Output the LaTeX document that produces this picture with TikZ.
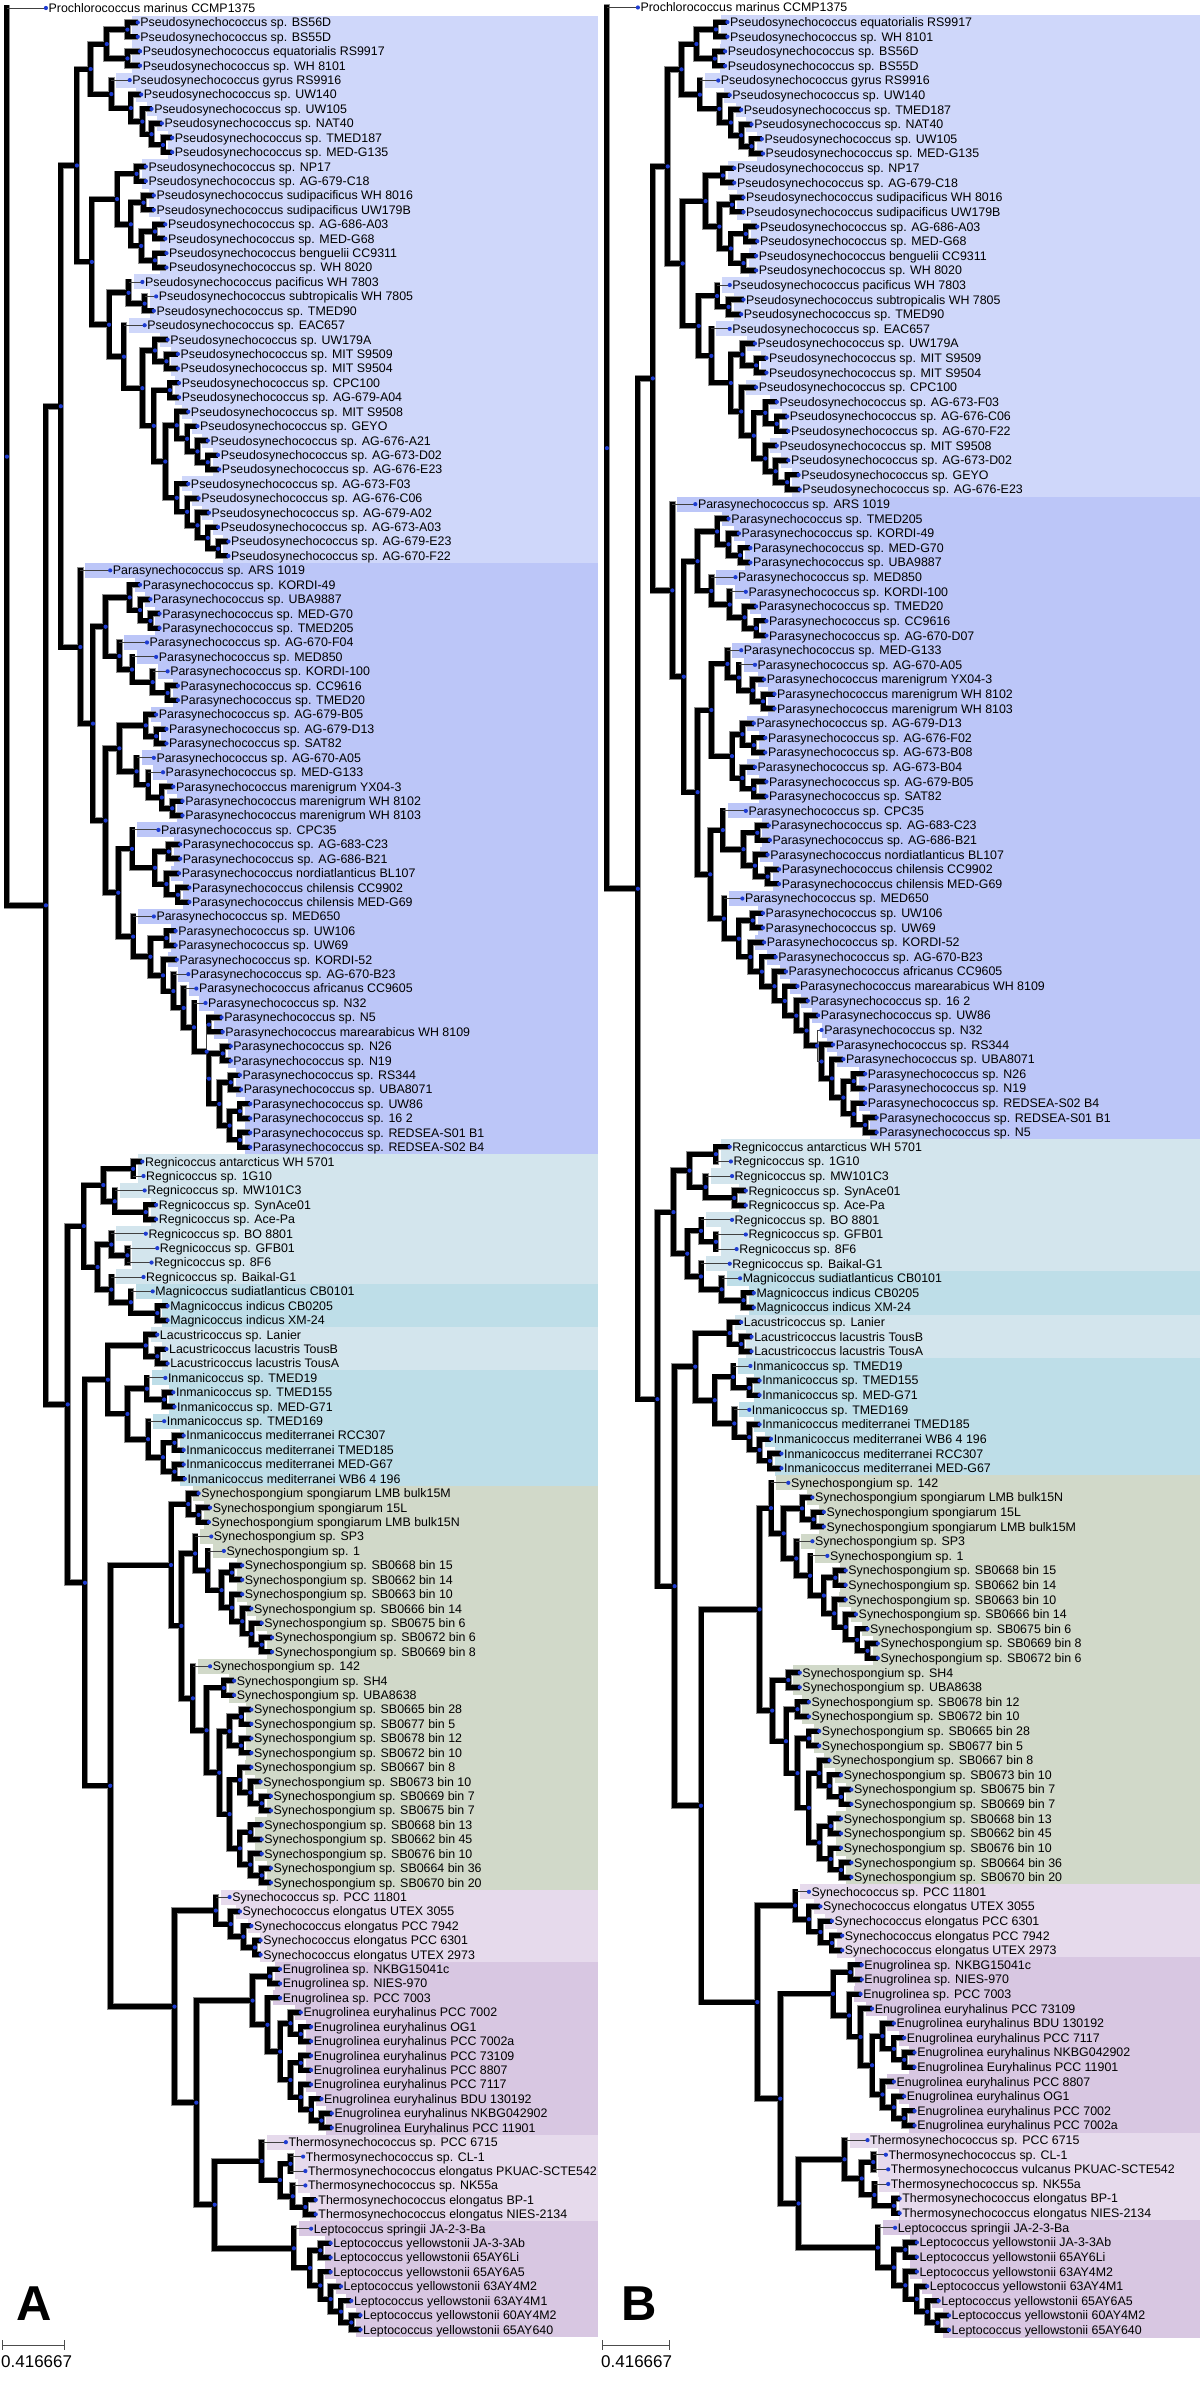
\documentclass[tikz,border=0pt]{standalone}
\usepackage{fontspec}
\setmainfont{Liberation Sans}
\usetikzlibrary{calc}
\definecolor{cPse}{HTML}{CFD7FA}
\definecolor{cPar}{HTML}{BCC6F8}
\definecolor{cReg}{HTML}{D3E5ED}
\definecolor{cMag}{HTML}{BEDEE8}
\definecolor{cSpo}{HTML}{D1D9C9}
\definecolor{cSyc}{HTML}{E6DAEC}
\definecolor{cEnu}{HTML}{D8C7E2}
\definecolor{dotblue}{HTML}{1E3CD2}
\tikzset{
  thk/.style={line width=5pt, draw=black},
  thkbg/.style={line width=6.6pt, draw=black!45},
  thn/.style={line width=0.9pt, draw=black!75},
  lab/.style={anchor=base west, inner sep=1pt, font=\fontsize{12.4}{13}\selectfont},
  dotst/.style={fill=dotblue},
  panellet/.style={anchor=base west, inner sep=0pt, font=\fontsize{49}{50}\selectfont\bfseries},
  scaletxt/.style={anchor=north west, inner sep=0pt, font=\fontsize{17}{18}\selectfont},
  scalebar/.style={line width=1pt, draw=black!70},
}
\newcommand\ys{8}
\newcommand\yd{14.42}
\newcommand\rx{598}
\newcommand\xo{0}
\newcommand\xs{1.1481}
\newcommand\bcol{white}
\newcommand\bglist{}
\newcommand\underlist{}
\newcommand\mainlist{}
\newcommand\lablist{}
\newcommand\toplist{}
\newcommand\addto[2]{\xdef#1{\unexpanded\expandafter{#1}#2}}
\newcommand\Lf[5]{%
  \pgfmathsetmacro\tmpy{\ys+\yd*#2}%
  \pgfmathsetmacro\tmpx{\xo+(#3-\xo)*\xs}%
  \expandafter\xdef\csname ny@#1\endcsname{\tmpy}%
  \expandafter\xdef\csname nx@#1\endcsname{\tmpx}%
  \expandafter\xdef\csname nf@#1\endcsname{#4}%
  \expandafter\xdef\csname nc@#1\endcsname{\bcol}%
  \expandafter\xdef\csname nl@#1\endcsname{1}%
  \coordinate (#1) at (\tmpx,-\tmpy);%
  \addto\lablist{\noexpand\node[lab] (#1t) at (\tmpx+1.5,-\tmpy-4.4) {\unexpanded{#5}};}%
  \addto\toplist{\noexpand\fill[dotst] (#1) circle (2.1pt);}%
}
\newcommand\Br[2]{%
  \ifnum\csname nf@#2\endcsname=2\relax
    \addto\mainlist{\noexpand\draw[thn] (#1) |- (#2);}%
  \else\ifnum\csname nf@#2\endcsname=1\relax
    \addto\underlist{\noexpand\draw[thkbg,line cap=rect] (#1) -- (#1 |- #2);}%
    \addto\mainlist{\noexpand\draw[thk,line cap=rect] (#1) -- (#1 |- #2);\noexpand\draw[thn] (#1 |- #2) -- (#2);}%
  \else
    \addto\underlist{\noexpand\draw[thkbg] (#1) |- (#2);}%
    \addto\mainlist{\noexpand\draw[thk] (#1) |- (#2);}%
  \fi\fi
  \ifnum\csname nl@#2\endcsname=1\relax
    \pgfmathsetmacro\bxa{\csname nx@#1\endcsname+5}%
    \pgfmathsetmacro\bya{-\csname ny@#2\endcsname+\yd/2+0.3}%
    \pgfmathsetmacro\byb{-\csname ny@#2\endcsname-\yd/2-0.3}%
    \addto\bglist{\noexpand\fill[\csname nc@#2\endcsname] (\bxa,\bya) rectangle (\rx,\byb);}%
  \fi
}
\newcommand\Cl[5]{%
  \pgfmathsetmacro\tmpy{(\csname ny@#3\endcsname+\csname ny@#4\endcsname)/2}%
  \pgfmathsetmacro\tmpx{\xo+(#2-\xo)*\xs}%
  \expandafter\xdef\csname ny@#1\endcsname{\tmpy}%
  \expandafter\xdef\csname nx@#1\endcsname{\tmpx}%
  \expandafter\xdef\csname nf@#1\endcsname{#5}%
  \expandafter\xdef\csname nl@#1\endcsname{0}%
  \coordinate (#1) at (\tmpx,-\tmpy);%
  \Br{#1}{#3}\Br{#1}{#4}%
  \addto\toplist{\noexpand\fill[dotst] (#1) circle (2.1pt);}%
}
\begin{document}
\begin{tikzpicture}[x=1pt,y=1pt]
\useasboundingbox (0,0) rectangle (1200,-2400);
\fill[white] (0,0) rectangle (1200,-2400);
% ================= PANEL A =================
\renewcommand\bcol{white}
\Lf{A0}{0}{40}{1}{Prochlorococcus marinus CCMP1375}
\renewcommand\bcol{cPse}
\Lf{A1}{1}{120}{0}{Pseudosynechococcus sp. BS56D}
\Lf{A2}{2}{120}{0}{Pseudosynechococcus sp. BS55D}
\Lf{A3}{3}{122}{0}{Pseudosynechococcus equatorialis RS9917}
\Lf{A4}{4}{122}{0}{Pseudosynechococcus sp. WH 8101}
\Lf{A5}{5}{113}{1}{Pseudosynechococcus gyrus RS9916}
\Lf{A6}{6}{123}{0}{Pseudosynechococcus sp. UW140}
\Lf{A7}{7}{132}{0}{Pseudosynechococcus sp. UW105}
\Lf{A8}{8}{141}{0}{Pseudosynechococcus sp. NAT40}
\Lf{A9}{9}{150}{0}{Pseudosynechococcus sp. TMED187}
\Lf{A10}{10}{150}{0}{Pseudosynechococcus sp. MED-G135}
\Lf{A11}{11}{127}{0}{Pseudosynechococcus sp. NP17}
\Lf{A12}{12}{127}{0}{Pseudosynechococcus sp. AG-679-C18}
\Lf{A13}{13}{134}{0}{Pseudosynechococcus sudipacificus WH 8016}
\Lf{A14}{14}{134}{0}{Pseudosynechococcus sudipacificus UW179B}
\Lf{A15}{15}{144}{0}{Pseudosynechococcus sp. AG-686-A03}
\Lf{A16}{16}{144}{0}{Pseudosynechococcus sp. MED-G68}
\Lf{A17}{17}{145}{0}{Pseudosynechococcus benguelii CC9311}
\Lf{A18}{18}{145}{0}{Pseudosynechococcus sp. WH 8020}
\Lf{A19}{19}{124}{1}{Pseudosynechococcus pacificus WH 7803}
\Lf{A20}{20}{136}{1}{Pseudosynechococcus subtropicalis WH 7805}
\Lf{A21}{21}{134}{0}{Pseudosynechococcus sp. TMED90}
\Lf{A22}{22}{126}{1}{Pseudosynechococcus sp. EAC657}
\Lf{A23}{23}{146}{0}{Pseudosynechococcus sp. UW179A}
\Lf{A24}{24}{155}{0}{Pseudosynechococcus sp. MIT S9509}
\Lf{A25}{25}{155}{0}{Pseudosynechococcus sp. MIT S9504}
\Lf{A26}{26}{156}{0}{Pseudosynechococcus sp. CPC100}
\Lf{A27}{27}{156}{0}{Pseudosynechococcus sp. AG-679-A04}
\Lf{A28}{28}{164}{0}{Pseudosynechococcus sp. MIT S9508}
\Lf{A29}{29}{172}{0}{Pseudosynechococcus sp. GEYO}
\Lf{A30}{30}{181}{0}{Pseudosynechococcus sp. AG-676-A21}
\Lf{A31}{31}{190}{0}{Pseudosynechococcus sp. AG-673-D02}
\Lf{A32}{32}{191}{0}{Pseudosynechococcus sp. AG-676-E23}
\Lf{A33}{33}{164}{0}{Pseudosynechococcus sp. AG-673-F03}
\Lf{A34}{34}{173}{0}{Pseudosynechococcus sp. AG-676-C06}
\Lf{A35}{35}{182}{0}{Pseudosynechococcus sp. AG-679-A02}
\Lf{A36}{36}{190}{0}{Pseudosynechococcus sp. AG-673-A03}
\Lf{A37}{37}{199}{0}{Pseudosynechococcus sp. AG-679-E23}
\Lf{A38}{38}{199}{0}{Pseudosynechococcus sp. AG-670-F22}
\renewcommand\bcol{cPar}
\Lf{A39}{39}{96}{1}{Parasynechococcus sp. ARS 1019}
\Lf{A40}{40}{122}{0}{Parasynechococcus sp. KORDI-49}
\Lf{A41}{41}{131}{0}{Parasynechococcus sp. UBA9887}
\Lf{A42}{42}{139}{0}{Parasynechococcus sp. MED-G70}
\Lf{A43}{43}{139}{0}{Parasynechococcus sp. TMED205}
\Lf{A44}{44}{128}{1}{Parasynechococcus sp. AG-670-F04}
\Lf{A45}{45}{136}{1}{Parasynechococcus sp. MED850}
\Lf{A46}{46}{146}{1}{Parasynechococcus sp. KORDI-100}
\Lf{A47}{47}{155}{0}{Parasynechococcus sp. CC9616}
\Lf{A48}{48}{155}{0}{Parasynechococcus sp. TMED20}
\Lf{A49}{49}{136}{0}{Parasynechococcus sp. AG-679-B05}
\Lf{A50}{50}{145}{0}{Parasynechococcus sp. AG-679-D13}
\Lf{A51}{51}{145}{0}{Parasynechococcus sp. SAT82}
\Lf{A52}{52}{134}{1}{Parasynechococcus sp. AG-670-A05}
\Lf{A53}{53}{142}{1}{Parasynechococcus sp. MED-G133}
\Lf{A54}{54}{151}{0}{Parasynechococcus marenigrum YX04-3}
\Lf{A55}{55}{159}{0}{Parasynechococcus marenigrum WH 8102}
\Lf{A56}{56}{159}{0}{Parasynechococcus marenigrum WH 8103}
\Lf{A57}{57}{138}{1}{Parasynechococcus sp. CPC35}
\Lf{A58}{58}{157}{0}{Parasynechococcus sp. AG-683-C23}
\Lf{A59}{59}{157}{0}{Parasynechococcus sp. AG-686-B21}
\Lf{A60}{60}{156}{0}{Parasynechococcus nordiatlanticus BL107}
\Lf{A61}{61}{165}{0}{Parasynechococcus chilensis CC9902}
\Lf{A62}{62}{165}{0}{Parasynechococcus chilensis MED-G69}
\Lf{A63}{63}{134}{1}{Parasynechococcus sp. MED650}
\Lf{A64}{64}{153}{0}{Parasynechococcus sp. UW106}
\Lf{A65}{65}{153}{0}{Parasynechococcus sp. UW69}
\Lf{A66}{66}{154}{0}{Parasynechococcus sp. KORDI-52}
\Lf{A67}{67}{164}{1}{Parasynechococcus sp. AG-670-B23}
\Lf{A68}{68}{171}{1}{Parasynechococcus africanus CC9605}
\Lf{A69}{69}{179}{1}{Parasynechococcus sp. N32}
\Lf{A70}{70}{193}{0}{Parasynechococcus sp. N5}
\Lf{A71}{71}{194}{0}{Parasynechococcus marearabicus WH 8109}
\Lf{A72}{72}{201}{0}{Parasynechococcus sp. N26}
\Lf{A73}{73}{201}{0}{Parasynechococcus sp. N19}
\Lf{A74}{74}{209}{0}{Parasynechococcus sp. RS344}
\Lf{A75}{75}{210}{0}{Parasynechococcus sp. UBA8071}
\Lf{A76}{76}{218}{0}{Parasynechococcus sp. UW86}
\Lf{A77}{77}{218}{0}{Parasynechococcus sp. 16 2}
\Lf{A78}{78}{218}{0}{Parasynechococcus sp. REDSEA-S01 B1}
\Lf{A79}{79}{218}{0}{Parasynechococcus sp. REDSEA-S02 B4}
\renewcommand\bcol{cReg}
\Lf{A80}{80}{124}{0}{Regnicoccus antarcticus WH 5701}
\Lf{A81}{81}{125}{1}{Regnicoccus sp. 1G10}
\Lf{A82}{82}{126}{1}{Regnicoccus sp. MW101C3}
\Lf{A83}{83}{136}{0}{Regnicoccus sp. SynAce01}
\Lf{A84}{84}{136}{0}{Regnicoccus sp. Ace-Pa}
\Lf{A85}{85}{127}{1}{Regnicoccus sp. BO 8801}
\Lf{A86}{86}{137}{1}{Regnicoccus sp. GFB01}
\Lf{A87}{87}{132}{1}{Regnicoccus sp. 8F6}
\Lf{A88}{88}{125}{1}{Regnicoccus sp. Baikal-G1}
\renewcommand\bcol{cMag}
\Lf{A89}{89}{133}{1}{Magnicoccus sudiatlanticus CB0101}
\Lf{A90}{90}{146}{0}{Magnicoccus indicus CB0205}
\Lf{A91}{91}{146}{0}{Magnicoccus indicus XM-24}
\renewcommand\bcol{cReg}
\Lf{A92}{92}{137}{0}{Lacustricoccus sp. Lanier}
\Lf{A93}{93}{145}{0}{Lacustricoccus lacustris TousB}
\Lf{A94}{94}{146}{0}{Lacustricoccus lacustris TousA}
\renewcommand\bcol{cMag}
\Lf{A95}{95}{144}{1}{Inmanicoccus sp. TMED19}
\Lf{A96}{96}{151}{0}{Inmanicoccus sp. TMED155}
\Lf{A97}{97}{152}{0}{Inmanicoccus sp. MED-G71}
\Lf{A98}{98}{143}{1}{Inmanicoccus sp. TMED169}
\Lf{A99}{99}{160}{0}{Inmanicoccus mediterranei RCC307}
\Lf{A100}{100}{160}{0}{Inmanicoccus mediterranei TMED185}
\Lf{A101}{101}{160}{0}{Inmanicoccus mediterranei MED-G67}
\Lf{A102}{102}{161}{0}{Inmanicoccus mediterranei WB6 4 196}
\renewcommand\bcol{cSpo}
\Lf{A103}{103}{173}{0}{Synechospongium spongiarum LMB bulk15M}
\Lf{A104}{104}{183}{0}{Synechospongium spongiarum 15L}
\Lf{A105}{105}{182}{0}{Synechospongium spongiarum LMB bulk15N}
\Lf{A106}{106}{184}{1}{Synechospongium sp. SP3}
\Lf{A107}{107}{195}{1}{Synechospongium sp. 1}
\Lf{A108}{108}{211}{0}{Synechospongium sp. SB0668 bin 15}
\Lf{A109}{109}{211}{0}{Synechospongium sp. SB0662 bin 14}
\Lf{A110}{110}{211}{0}{Synechospongium sp. SB0663 bin 10}
\Lf{A111}{111}{219}{0}{Synechospongium sp. SB0666 bin 14}
\Lf{A112}{112}{228}{0}{Synechospongium sp. SB0675 bin 6}
\Lf{A113}{113}{237}{0}{Synechospongium sp. SB0672 bin 6}
\Lf{A114}{114}{237}{0}{Synechospongium sp. SB0669 bin 8}
\Lf{A115}{115}{183}{1}{Synechospongium sp. 142}
\Lf{A116}{116}{204}{0}{Synechospongium sp. SH4}
\Lf{A117}{117}{204}{0}{Synechospongium sp. UBA8638}
\Lf{A118}{118}{219}{0}{Synechospongium sp. SB0665 bin 28}
\Lf{A119}{119}{219}{0}{Synechospongium sp. SB0677 bin 5}
\Lf{A120}{120}{219}{0}{Synechospongium sp. SB0678 bin 12}
\Lf{A121}{121}{219}{0}{Synechospongium sp. SB0672 bin 10}
\Lf{A122}{122}{219}{0}{Synechospongium sp. SB0667 bin 8}
\Lf{A123}{123}{227}{0}{Synechospongium sp. SB0673 bin 10}
\Lf{A124}{124}{236}{0}{Synechospongium sp. SB0669 bin 7}
\Lf{A125}{125}{236}{0}{Synechospongium sp. SB0675 bin 7}
\Lf{A126}{126}{228}{0}{Synechospongium sp. SB0668 bin 13}
\Lf{A127}{127}{228}{0}{Synechospongium sp. SB0662 bin 45}
\Lf{A128}{128}{228}{0}{Synechospongium sp. SB0676 bin 10}
\Lf{A129}{129}{236}{0}{Synechospongium sp. SB0664 bin 36}
\Lf{A130}{130}{236}{0}{Synechospongium sp. SB0670 bin 20}
\renewcommand\bcol{cSyc}
\Lf{A131}{131}{200}{1}{Synechococcus sp. PCC 11801}
\Lf{A132}{132}{209}{0}{Synechococcus elongatus UTEX 3055}
\Lf{A133}{133}{219}{0}{Synechococcus elongatus PCC 7942}
\Lf{A134}{134}{227}{0}{Synechococcus elongatus PCC 6301}
\Lf{A135}{135}{227}{0}{Synechococcus elongatus UTEX 2973}
\renewcommand\bcol{cEnu}
\Lf{A136}{136}{244}{0}{Enugrolinea sp. NKBG15041c}
\Lf{A137}{137}{244}{0}{Enugrolinea sp. NIES-970}
\Lf{A138}{138}{244}{0}{Enugrolinea sp. PCC 7003}
\Lf{A139}{139}{262}{0}{Enugrolinea euryhalinus PCC 7002}
\Lf{A140}{140}{271}{0}{Enugrolinea euryhalinus OG1}
\Lf{A141}{141}{271}{0}{Enugrolinea euryhalinus PCC 7002a}
\Lf{A142}{142}{271}{0}{Enugrolinea euryhalinus PCC 73109}
\Lf{A143}{143}{271}{0}{Enugrolinea euryhalinus PCC 8807}
\Lf{A144}{144}{271}{0}{Enugrolinea euryhalinus PCC 7117}
\Lf{A145}{145}{280}{0}{Enugrolinea euryhalinus BDU 130192}
\Lf{A146}{146}{289}{0}{Enugrolinea euryhalinus NKBG042902}
\Lf{A147}{147}{289}{0}{Enugrolinea Euryhalinus PCC 11901}
\renewcommand\bcol{cSyc}
\Lf{A148}{148}{249}{1}{Thermosynechococcus sp. PCC 6715}
\Lf{A149}{149}{264}{1}{Thermosynechococcus sp. CL-1}
\Lf{A150}{150}{266}{1}{Thermosynechococcus elongatus PKUAC-SCTE542}
\Lf{A151}{151}{266}{1}{Thermosynechococcus sp. NK55a}
\Lf{A152}{152}{275}{0}{Thermosynechococcus elongatus BP-1}
\Lf{A153}{153}{275}{0}{Thermosynechococcus elongatus NIES-2134}
\renewcommand\bcol{cEnu}
\Lf{A154}{154}{271}{1}{Leptococcus springii JA-2-3-Ba}
\Lf{A155}{155}{288}{0}{Leptococcus yellowstonii JA-3-3Ab}
\Lf{A156}{156}{288}{0}{Leptococcus yellowstonii 65AY6Li}
\Lf{A157}{157}{288}{0}{Leptococcus yellowstonii 65AY6A5}
\Lf{A158}{158}{297}{0}{Leptococcus yellowstonii 63AY4M2}
\Lf{A159}{159}{306}{0}{Leptococcus yellowstonii 63AY4M1}
\Lf{A160}{160}{314}{0}{Leptococcus yellowstonii 60AY4M2}
\Lf{A161}{161}{314}{0}{Leptococcus yellowstonii 65AY640}
% --- A internal nodes
\Cl{a1}{111}{A1}{A2}{0}
\Cl{a2}{111}{A3}{A4}{0}
\Cl{a3}{93}{a1}{a2}{0}
\Cl{a4}{142}{A9}{A10}{0}
\Cl{a5}{132}{A8}{a4}{0}
\Cl{a6}{124}{A7}{a5}{0}
\Cl{a7}{114}{A6}{a6}{0}
\Cl{a8}{97}{A5}{a7}{0}
\Cl{a9}{79}{a3}{a8}{0}
\Cl{a10}{119}{A11}{A12}{0}
\Cl{a11}{125}{A13}{A14}{0}
\Cl{a12}{135}{A15}{A16}{0}
\Cl{a13}{135}{A17}{A18}{0}
\Cl{a14}{123}{a12}{a13}{0}
\Cl{a15}{114}{a11}{a14}{0}
\Cl{a16}{102}{a10}{a15}{0}
\Cl{a17}{126}{A20}{A21}{0}
\Cl{a18}{112}{A19}{a17}{0}
\Cl{a19}{145}{A24}{A25}{0}
\Cl{a20}{135}{A23}{a19}{0}
\Cl{a21}{148}{A26}{A27}{0}
\Cl{a22}{181}{A31}{A32}{0}
\Cl{a23}{172}{A30}{a22}{0}
\Cl{a24}{163}{A29}{a23}{0}
\Cl{a25}{154}{A28}{a24}{0}
\Cl{a26}{190}{A37}{A38}{0}
\Cl{a27}{181}{A36}{a26}{0}
\Cl{a28}{172}{A35}{a27}{0}
\Cl{a29}{163}{A34}{a28}{0}
\Cl{a30}{154}{A33}{a29}{0}
\Cl{a31}{144}{a25}{a30}{0}
\Cl{a32}{134}{a21}{a31}{0}
\Cl{a33}{124}{a20}{a32}{0}
\Cl{a34}{108}{A22}{a33}{0}
\Cl{a35}{95}{a18}{a34}{0}
\Cl{a36}{80}{a16}{a35}{0}
\Cl{a37}{67}{a9}{a36}{0}
\Cl{b1}{131}{A42}{A43}{0}
\Cl{b2}{122}{A41}{b1}{0}
\Cl{b3}{113}{A40}{b2}{0}
\Cl{b4}{146}{A47}{A48}{0}
\Cl{b5}{133}{A46}{b4}{0}
\Cl{b6}{115}{A45}{b5}{0}
\Cl{b7}{104}{A44}{b6}{0}
\Cl{b8}{92}{b3}{b7}{0}
\Cl{b9}{136}{A50}{A51}{0}
\Cl{b10}{127}{A49}{b9}{0}
\Cl{b11}{150}{A55}{A56}{0}
\Cl{b12}{141}{A54}{b11}{0}
\Cl{b13}{129}{A53}{b12}{0}
\Cl{b14}{119}{A52}{b13}{0}
\Cl{b15}{104}{b10}{b14}{0}
\Cl{b16}{147}{A58}{A59}{0}
\Cl{b17}{155}{A61}{A62}{0}
\Cl{b18}{145}{A60}{b17}{0}
\Cl{b19}{135}{b16}{b18}{0}
\Cl{b20}{115}{A57}{b19}{0}
\Cl{b21}{145}{A64}{A65}{0}
\Cl{b22}{182}{A70}{A71}{2}
\Cl{b23}{194}{A72}{A73}{0}
\Cl{b24}{201}{A74}{A75}{0}
\Cl{b25}{209}{A76}{A77}{0}
\Cl{b26}{209}{A78}{A79}{0}
\Cl{b27}{200}{b25}{b26}{0}
\Cl{b28}{191}{b24}{b27}{0}
\Cl{b29}{182}{b23}{b28}{2}
\Cl{b30}{180}{b22}{b29}{0}
\Cl{b31}{169}{A69}{b30}{0}
\Cl{b32}{160}{A68}{b31}{0}
\Cl{b33}{151}{A67}{b32}{0}
\Cl{b34}{142}{A66}{b33}{0}
\Cl{b35}{131}{b21}{b34}{0}
\Cl{b36}{116}{A63}{b35}{0}
\Cl{b37}{103}{b20}{b36}{0}
\Cl{b38}{92}{b15}{b37}{0}
\Cl{b39}{81}{b8}{b38}{0}
\Cl{b40}{70}{A39}{b39}{0}
\Cl{c1}{53}{a37}{b40}{0}
\Cl{d1}{116}{A80}{A81}{0}
\Cl{d2}{127}{A83}{A84}{0}
\Cl{d3}{100}{A82}{d2}{0}
\Cl{d4}{90}{d1}{d3}{0}
\Cl{d5}{111}{A86}{A87}{0}
\Cl{d6}{97}{A85}{d5}{0}
\Cl{d7}{137}{A90}{A91}{0}
\Cl{d8}{114}{A89}{d7}{0}
\Cl{d9}{97}{A88}{d8}{0}
\Cl{d10}{85}{d6}{d9}{0}
\Cl{d11}{73}{d4}{d10}{0}
\Cl{d12}{137}{A93}{A94}{0}
\Cl{d13}{127}{A92}{d12}{0}
\Cl{d14}{143}{A96}{A97}{0}
\Cl{d15}{128}{A95}{d14}{0}
\Cl{d16}{152}{A99}{A100}{0}
\Cl{d17}{152}{A101}{A102}{0}
\Cl{d18}{142}{d16}{d17}{0}
\Cl{d19}{129}{A98}{d18}{0}
\Cl{d20}{111}{d15}{d19}{0}
\Cl{d21}{94}{d13}{d20}{0}
\Cl{e1}{173}{A104}{A105}{0}
\Cl{e2}{164}{A103}{e1}{0}
\Cl{e3}{202}{A108}{A109}{0}
\Cl{e4}{228}{A113}{A114}{0}
\Cl{e5}{219}{A112}{e4}{0}
\Cl{e6}{211}{A111}{e5}{0}
\Cl{e7}{202}{A110}{e6}{0}
\Cl{e8}{193}{e3}{e7}{0}
\Cl{e9}{181}{A107}{e8}{0}
\Cl{e10}{170}{A106}{e9}{0}
\Cl{e11}{195}{A116}{A117}{0}
\Cl{e12}{210}{A118}{A119}{0}
\Cl{e13}{210}{A120}{A121}{0}
\Cl{e14}{200}{e12}{e13}{0}
\Cl{e15}{228}{A124}{A125}{0}
\Cl{e16}{218}{A123}{e15}{0}
\Cl{e17}{209}{A122}{e16}{0}
\Cl{e18}{218}{A126}{A127}{0}
\Cl{e19}{228}{A129}{A130}{0}
\Cl{e20}{218}{A128}{e19}{0}
\Cl{e21}{209}{e18}{e20}{0}
\Cl{e22}{200}{e17}{e21}{0}
\Cl{e23}{191}{e14}{e22}{0}
\Cl{e24}{180}{e11}{e23}{0}
\Cl{e25}{168}{A115}{e24}{0}
\Cl{e26}{158}{e10}{e25}{0}
\Cl{e27}{149}{e2}{e26}{0}
\Cl{f1}{222}{A134}{A135}{0}
\Cl{f2}{212}{A133}{f1}{0}
\Cl{f3}{201}{A132}{f2}{0}
\Cl{f4}{188}{A131}{f3}{0}
\Cl{g1}{235}{A136}{A137}{0}
\Cl{g2}{262}{A140}{A141}{0}
\Cl{g3}{253}{A139}{g2}{0}
\Cl{g4}{262}{A142}{A143}{0}
\Cl{g5}{280}{A146}{A147}{0}
\Cl{g6}{271}{A145}{g5}{0}
\Cl{g7}{262}{A144}{g6}{0}
\Cl{g8}{253}{g4}{g7}{0}
\Cl{g9}{244}{g3}{g8}{0}
\Cl{g10}{233}{A138}{g9}{0}
\Cl{g11}{220}{g1}{g10}{0}
\Cl{h1}{253}{A149}{A150}{0}
\Cl{h2}{266}{A152}{A153}{0}
\Cl{h3}{255}{A151}{h2}{0}
\Cl{h4}{244}{h1}{h3}{0}
\Cl{h5}{228}{A148}{h4}{0}
\Cl{i1}{279}{A155}{A156}{0}
\Cl{i2}{306}{A160}{A161}{0}
\Cl{i3}{297}{A159}{i2}{0}
\Cl{i4}{288}{A158}{i3}{0}
\Cl{i5}{279}{A157}{i4}{0}
\Cl{i6}{270}{i1}{i5}{0}
\Cl{i7}{256}{A154}{i6}{0}
\Cl{j1}{187}{h5}{i7}{0}
\Cl{j2}{171}{g11}{j1}{0}
\Cl{j3}{152}{f4}{j2}{0}
\Cl{j4}{96}{e27}{j3}{0}
\Cl{j5}{74}{d21}{j4}{0}
\Cl{j6}{59}{d11}{j5}{0}
\Cl{j7}{40}{c1}{j6}{0}
\Cl{Aroot}{6}{A0}{j7}{0}
% ================= PANEL B =================
\renewcommand\ys{7.5}
\renewcommand\yd{14.607}
\renewcommand\rx{1200}
\renewcommand\xo{600}
\renewcommand\bcol{white}
\Lf{B0}{0}{633}{1}{Prochlorococcus marinus CCMP1375}
\renewcommand\bcol{cPse}
\Lf{B1}{1}{711}{0}{Pseudosynechococcus equatorialis RS9917}
\Lf{B2}{2}{711}{0}{Pseudosynechococcus sp. WH 8101}
\Lf{B3}{3}{709}{0}{Pseudosynechococcus sp. BS56D}
\Lf{B4}{4}{709}{0}{Pseudosynechococcus sp. BS55D}
\Lf{B5}{5}{703}{1}{Pseudosynechococcus gyrus RS9916}
\Lf{B6}{6}{713}{0}{Pseudosynechococcus sp. UW140}
\Lf{B7}{7}{723}{0}{Pseudosynechococcus sp. TMED187}
\Lf{B8}{8}{732}{0}{Pseudosynechococcus sp. NAT40}
\Lf{B9}{9}{741}{0}{Pseudosynechococcus sp. UW105}
\Lf{B10}{10}{742}{0}{Pseudosynechococcus sp. MED-G135}
\Lf{B11}{11}{717}{0}{Pseudosynechococcus sp. NP17}
\Lf{B12}{12}{717}{0}{Pseudosynechococcus sp. AG-679-C18}
\Lf{B13}{13}{725}{0}{Pseudosynechococcus sudipacificus WH 8016}
\Lf{B14}{14}{725}{0}{Pseudosynechococcus sudipacificus UW179B}
\Lf{B15}{15}{737}{0}{Pseudosynechococcus sp. AG-686-A03}
\Lf{B16}{16}{737}{0}{Pseudosynechococcus sp. MED-G68}
\Lf{B17}{17}{736}{0}{Pseudosynechococcus benguelii CC9311}
\Lf{B18}{18}{736}{0}{Pseudosynechococcus sp. WH 8020}
\Lf{B19}{19}{713}{1}{Pseudosynechococcus pacificus WH 7803}
\Lf{B20}{20}{725}{0}{Pseudosynechococcus subtropicalis WH 7805}
\Lf{B21}{21}{723}{0}{Pseudosynechococcus sp. TMED90}
\Lf{B22}{22}{713}{1}{Pseudosynechococcus sp. EAC657}
\Lf{B23}{23}{735}{0}{Pseudosynechococcus sp. UW179A}
\Lf{B24}{24}{745}{0}{Pseudosynechococcus sp. MIT S9509}
\Lf{B25}{25}{745}{0}{Pseudosynechococcus sp. MIT S9504}
\Lf{B26}{26}{736}{0}{Pseudosynechococcus sp. CPC100}
\Lf{B27}{27}{754}{0}{Pseudosynechococcus sp. AG-673-F03}
\Lf{B28}{28}{763}{0}{Pseudosynechococcus sp. AG-676-C06}
\Lf{B29}{29}{764}{0}{Pseudosynechococcus sp. AG-670-F22}
\Lf{B30}{30}{754}{0}{Pseudosynechococcus sp. MIT S9508}
\Lf{B31}{31}{764}{0}{Pseudosynechococcus sp. AG-673-D02}
\Lf{B32}{32}{773}{0}{Pseudosynechococcus sp. GEYO}
\Lf{B33}{33}{774}{0}{Pseudosynechococcus sp. AG-676-E23}
\renewcommand\bcol{cPar}
\Lf{B34}{34}{683}{1}{Parasynechococcus sp. ARS 1019}
\Lf{B35}{35}{712}{0}{Parasynechococcus sp. TMED205}
\Lf{B36}{36}{721}{0}{Parasynechococcus sp. KORDI-49}
\Lf{B37}{37}{731}{0}{Parasynechococcus sp. MED-G70}
\Lf{B38}{38}{731}{0}{Parasynechococcus sp. UBA9887}
\Lf{B39}{39}{718}{1}{Parasynechococcus sp. MED850}
\Lf{B40}{40}{727}{1}{Parasynechococcus sp. KORDI-100}
\Lf{B41}{41}{736}{0}{Parasynechococcus sp. TMED20}
\Lf{B42}{42}{745}{0}{Parasynechococcus sp. CC9616}
\Lf{B43}{43}{745}{0}{Parasynechococcus sp. AG-670-D07}
\Lf{B44}{44}{723}{1}{Parasynechococcus sp. MED-G133}
\Lf{B45}{45}{735}{1}{Parasynechococcus sp. AG-670-A05}
\Lf{B46}{46}{743}{0}{Parasynechococcus marenigrum YX04-3}
\Lf{B47}{47}{752}{0}{Parasynechococcus marenigrum WH 8102}
\Lf{B48}{48}{752}{0}{Parasynechococcus marenigrum WH 8103}
\Lf{B49}{49}{734}{0}{Parasynechococcus sp. AG-679-D13}
\Lf{B50}{50}{744}{0}{Parasynechococcus sp. AG-676-F02}
\Lf{B51}{51}{744}{0}{Parasynechococcus sp. AG-673-B08}
\Lf{B52}{52}{735}{0}{Parasynechococcus sp. AG-673-B04}
\Lf{B53}{53}{745}{0}{Parasynechococcus sp. AG-679-B05}
\Lf{B54}{54}{745}{0}{Parasynechococcus sp. SAT82}
\Lf{B55}{55}{727}{1}{Parasynechococcus sp. CPC35}
\Lf{B56}{56}{747}{0}{Parasynechococcus sp. AG-683-C23}
\Lf{B57}{57}{748}{0}{Parasynechococcus sp. AG-686-B21}
\Lf{B58}{58}{746}{0}{Parasynechococcus nordiatlanticus BL107}
\Lf{B59}{59}{756}{0}{Parasynechococcus chilensis CC9902}
\Lf{B60}{60}{756}{0}{Parasynechococcus chilensis MED-G69}
\Lf{B61}{61}{724}{1}{Parasynechococcus sp. MED650}
\Lf{B62}{62}{742}{0}{Parasynechococcus sp. UW106}
\Lf{B63}{63}{742}{0}{Parasynechococcus sp. UW69}
\Lf{B64}{64}{743}{0}{Parasynechococcus sp. KORDI-52}
\Lf{B65}{65}{753}{0}{Parasynechococcus sp. AG-670-B23}
\Lf{B66}{66}{762}{0}{Parasynechococcus africanus CC9605}
\Lf{B67}{67}{772}{0}{Parasynechococcus marearabicus WH 8109}
\Lf{B68}{68}{781}{0}{Parasynechococcus sp. 16 2}
\Lf{B69}{69}{790}{0}{Parasynechococcus sp. UW86}
\Lf{B70}{70}{793}{2}{Parasynechococcus sp. N32}
\Lf{B71}{71}{803}{0}{Parasynechococcus sp. RS344}
\Lf{B72}{72}{812}{0}{Parasynechococcus sp. UBA8071}
\Lf{B73}{73}{831}{0}{Parasynechococcus sp. N26}
\Lf{B74}{74}{831}{0}{Parasynechococcus sp. N19}
\Lf{B75}{75}{831}{0}{Parasynechococcus sp. REDSEA-S02 B4}
\Lf{B76}{76}{841}{0}{Parasynechococcus sp. REDSEA-S01 B1}
\Lf{B77}{77}{841}{0}{Parasynechococcus sp. N5}
\renewcommand\bcol{cReg}
\Lf{B78}{78}{713}{0}{Regnicoccus antarcticus WH 5701}
\Lf{B79}{79}{714}{1}{Regnicoccus sp. 1G10}
\Lf{B80}{80}{715}{1}{Regnicoccus sp. MW101C3}
\Lf{B81}{81}{727}{0}{Regnicoccus sp. SynAce01}
\Lf{B82}{82}{727}{0}{Regnicoccus sp. Ace-Pa}
\Lf{B83}{83}{715}{1}{Regnicoccus sp. BO 8801}
\Lf{B84}{84}{727}{1}{Regnicoccus sp. GFB01}
\Lf{B85}{85}{719}{1}{Regnicoccus sp. 8F6}
\Lf{B86}{86}{713}{1}{Regnicoccus sp. Baikal-G1}
\renewcommand\bcol{cMag}
\Lf{B87}{87}{722}{1}{Magnicoccus sudiatlanticus CB0101}
\Lf{B88}{88}{734}{0}{Magnicoccus indicus CB0205}
\Lf{B89}{89}{734}{0}{Magnicoccus indicus XM-24}
\renewcommand\bcol{cReg}
\Lf{B90}{90}{723}{0}{Lacustricoccus sp. Lanier}
\Lf{B91}{91}{732}{0}{Lacustricoccus lacustris TousB}
\Lf{B92}{92}{732}{0}{Lacustricoccus lacustris TousA}
\renewcommand\bcol{cMag}
\Lf{B93}{93}{731}{1}{Inmanicoccus sp. TMED19}
\Lf{B94}{94}{739}{0}{Inmanicoccus sp. TMED155}
\Lf{B95}{95}{739}{0}{Inmanicoccus sp. MED-G71}
\Lf{B96}{96}{730}{1}{Inmanicoccus sp. TMED169}
\Lf{B97}{97}{739}{0}{Inmanicoccus mediterranei TMED185}
\Lf{B98}{98}{749}{0}{Inmanicoccus mediterranei WB6 4 196}
\Lf{B99}{99}{758}{0}{Inmanicoccus mediterranei RCC307}
\Lf{B100}{100}{758}{0}{Inmanicoccus mediterranei MED-G67}
\renewcommand\bcol{cSpo}
\Lf{B101}{101}{764}{1}{Synechospongium sp. 142}
\Lf{B102}{102}{785}{0}{Synechospongium spongiarum LMB bulk15N}
\Lf{B103}{103}{795}{0}{Synechospongium spongiarum 15L}
\Lf{B104}{104}{795}{0}{Synechospongium spongiarum LMB bulk15M}
\Lf{B105}{105}{785}{1}{Synechospongium sp. SP3}
\Lf{B106}{106}{798}{1}{Synechospongium sp. 1}
\Lf{B107}{107}{814}{0}{Synechospongium sp. SB0668 bin 15}
\Lf{B108}{108}{814}{0}{Synechospongium sp. SB0662 bin 14}
\Lf{B109}{109}{814}{0}{Synechospongium sp. SB0663 bin 10}
\Lf{B110}{110}{823}{0}{Synechospongium sp. SB0666 bin 14}
\Lf{B111}{111}{833}{0}{Synechospongium sp. SB0675 bin 6}
\Lf{B112}{112}{842}{0}{Synechospongium sp. SB0669 bin 8}
\Lf{B113}{113}{842}{0}{Synechospongium sp. SB0672 bin 6}
\Lf{B114}{114}{774}{0}{Synechospongium sp. SH4}
\Lf{B115}{115}{774}{0}{Synechospongium sp. UBA8638}
\Lf{B116}{116}{782}{0}{Synechospongium sp. SB0678 bin 12}
\Lf{B117}{117}{782}{0}{Synechospongium sp. SB0672 bin 10}
\Lf{B118}{118}{791}{0}{Synechospongium sp. SB0665 bin 28}
\Lf{B119}{119}{791}{0}{Synechospongium sp. SB0677 bin 5}
\Lf{B120}{120}{800}{0}{Synechospongium sp. SB0667 bin 8}
\Lf{B121}{121}{810}{0}{Synechospongium sp. SB0673 bin 10}
\Lf{B122}{122}{819}{0}{Synechospongium sp. SB0675 bin 7}
\Lf{B123}{123}{819}{0}{Synechospongium sp. SB0669 bin 7}
\Lf{B124}{124}{810}{0}{Synechospongium sp. SB0668 bin 13}
\Lf{B125}{125}{810}{0}{Synechospongium sp. SB0662 bin 45}
\Lf{B126}{126}{810}{0}{Synechospongium sp. SB0676 bin 10}
\Lf{B127}{127}{819}{0}{Synechospongium sp. SB0664 bin 36}
\Lf{B128}{128}{819}{0}{Synechospongium sp. SB0670 bin 20}
\renewcommand\bcol{cSyc}
\Lf{B129}{129}{782}{1}{Synechococcus sp. PCC 11801}
\Lf{B130}{130}{792}{0}{Synechococcus elongatus UTEX 3055}
\Lf{B131}{131}{802}{0}{Synechococcus elongatus PCC 6301}
\Lf{B132}{132}{811}{0}{Synechococcus elongatus PCC 7942}
\Lf{B133}{133}{811}{0}{Synechococcus elongatus UTEX 2973}
\renewcommand\bcol{cEnu}
\Lf{B134}{134}{828}{0}{Enugrolinea sp. NKBG15041c}
\Lf{B135}{135}{828}{0}{Enugrolinea sp. NIES-970}
\Lf{B136}{136}{827}{0}{Enugrolinea sp. PCC 7003}
\Lf{B137}{137}{837}{0}{Enugrolinea euryhalinus PCC 73109}
\Lf{B138}{138}{856}{0}{Enugrolinea euryhalinus BDU 130192}
\Lf{B139}{139}{865}{0}{Enugrolinea euryhalinus PCC 7117}
\Lf{B140}{140}{874}{0}{Enugrolinea euryhalinus NKBG042902}
\Lf{B141}{141}{874}{0}{Enugrolinea Euryhalinus PCC 11901}
\Lf{B142}{142}{856}{0}{Enugrolinea euryhalinus PCC 8807}
\Lf{B143}{143}{865}{0}{Enugrolinea euryhalinus OG1}
\Lf{B144}{144}{874}{0}{Enugrolinea euryhalinus PCC 7002}
\Lf{B145}{145}{874}{0}{Enugrolinea euryhalinus PCC 7002a}
\renewcommand\bcol{cSyc}
\Lf{B146}{146}{833}{1}{Thermosynechococcus sp. PCC 6715}
\Lf{B147}{147}{849}{1}{Thermosynechococcus sp. CL-1}
\Lf{B148}{148}{851}{1}{Thermosynechococcus vulcanus PKUAC-SCTE542}
\Lf{B149}{149}{851}{1}{Thermosynechococcus sp. NK55a}
\Lf{B150}{150}{861}{0}{Thermosynechococcus elongatus BP-1}
\Lf{B151}{151}{861}{0}{Thermosynechococcus elongatus NIES-2134}
\renewcommand\bcol{cEnu}
\Lf{B152}{152}{857}{1}{Leptococcus springii JA-2-3-Ba}
\Lf{B153}{153}{876}{0}{Leptococcus yellowstonii JA-3-3Ab}
\Lf{B154}{154}{876}{0}{Leptococcus yellowstonii 65AY6Li}
\Lf{B155}{155}{876}{0}{Leptococcus yellowstonii 63AY4M2}
\Lf{B156}{156}{885}{0}{Leptococcus yellowstonii 63AY4M1}
\Lf{B157}{157}{895}{0}{Leptococcus yellowstonii 65AY6A5}
\Lf{B158}{158}{904}{0}{Leptococcus yellowstonii 60AY4M2}
\Lf{B159}{159}{904}{0}{Leptococcus yellowstonii 65AY640}
% --- B internal nodes
\Cl{p1}{701}{B1}{B2}{0}
\Cl{p2}{700}{B3}{B4}{0}
\Cl{p3}{684}{p1}{p2}{0}
\Cl{p4}{732}{B9}{B10}{0}
\Cl{p5}{723}{B8}{p4}{0}
\Cl{p6}{714}{B7}{p5}{0}
\Cl{p7}{704}{B6}{p6}{0}
\Cl{p8}{687}{B5}{p7}{0}
\Cl{p9}{671}{p3}{p8}{0}
\Cl{p10}{707}{B11}{B12}{0}
\Cl{p11}{715}{B13}{B14}{0}
\Cl{p12}{727}{B15}{B16}{0}
\Cl{p13}{725}{B17}{B18}{0}
\Cl{p14}{714}{p12}{p13}{0}
\Cl{p15}{704}{p11}{p14}{0}
\Cl{p16}{692}{p10}{p15}{0}
\Cl{p17}{712}{B20}{B21}{0}
\Cl{p18}{702}{B19}{p17}{0}
\Cl{p19}{736}{B24}{B25}{0}
\Cl{p20}{724}{B23}{p19}{0}
\Cl{p21}{754}{B28}{B29}{0}
\Cl{p22}{744}{B27}{p21}{0}
\Cl{p23}{763}{B32}{B33}{0}
\Cl{p24}{753}{B31}{p23}{0}
\Cl{p25}{744}{B30}{p24}{0}
\Cl{p26}{734}{p22}{p25}{0}
\Cl{p27}{723}{B26}{p26}{0}
\Cl{p28}{714}{p20}{p27}{0}
\Cl{p29}{697}{B22}{p28}{0}
\Cl{p30}{686}{p18}{p29}{0}
\Cl{p31}{672}{p16}{p30}{0}
\Cl{p32}{659}{p9}{p31}{0}
\Cl{q1}{722}{B37}{B38}{0}
\Cl{q2}{712}{B36}{q1}{0}
\Cl{q3}{702}{B35}{q2}{0}
\Cl{q4}{736}{B42}{B43}{0}
\Cl{q5}{726}{B41}{q4}{0}
\Cl{q6}{713}{B40}{q5}{0}
\Cl{q7}{697}{B39}{q6}{0}
\Cl{q8}{685}{q3}{q7}{0}
\Cl{q9}{742}{B47}{B48}{0}
\Cl{q10}{733}{B46}{q9}{0}
\Cl{q11}{721}{B45}{q10}{0}
\Cl{q12}{711}{B44}{q11}{0}
\Cl{q13}{734}{B50}{B51}{0}
\Cl{q14}{724}{B49}{q13}{0}
\Cl{q15}{734}{B53}{B54}{0}
\Cl{q16}{724}{B52}{q15}{0}
\Cl{q17}{715}{q14}{q16}{0}
\Cl{q18}{697}{q12}{q17}{0}
\Cl{q19}{737}{B56}{B57}{0}
\Cl{q20}{746}{B59}{B60}{0}
\Cl{q21}{735}{B58}{q20}{0}
\Cl{q22}{725}{q19}{q21}{0}
\Cl{q23}{707}{B55}{q22}{0}
\Cl{q24}{733}{B62}{B63}{0}
\Cl{q25}{831}{B76}{B77}{0}
\Cl{q26}{821}{B75}{q25}{0}
\Cl{q27}{821}{B73}{B74}{0}
\Cl{q28}{812}{q27}{q26}{0}
\Cl{q29}{802}{B72}{q28}{0}
\Cl{q30}{793}{B71}{q29}{2}
\Cl{q31}{789}{B70}{q30}{0}
\Cl{q32}{780}{B69}{q31}{0}
\Cl{q33}{771}{B68}{q32}{0}
\Cl{q34}{761}{B67}{q33}{0}
\Cl{q35}{752}{B66}{q34}{0}
\Cl{q36}{741}{B65}{q35}{0}
\Cl{q37}{731}{B64}{q36}{0}
\Cl{q38}{721}{q24}{q37}{0}
\Cl{q39}{708}{B61}{q38}{0}
\Cl{q40}{696}{q23}{q39}{0}
\Cl{q41}{685}{q18}{q40}{0}
\Cl{q42}{673}{q8}{q41}{0}
\Cl{q43}{663}{B34}{q42}{0}
\Cl{r1}{646}{p32}{q43}{0}
\Cl{s1}{701}{B78}{B79}{0}
\Cl{s2}{717}{B81}{B82}{0}
\Cl{s3}{692}{B80}{s2}{0}
\Cl{s4}{678}{s1}{s3}{0}
\Cl{s5}{701}{B84}{B85}{0}
\Cl{s6}{688}{B83}{s5}{0}
\Cl{s7}{725}{B88}{B89}{0}
\Cl{s8}{706}{B87}{s7}{0}
\Cl{s9}{688}{B86}{s8}{0}
\Cl{s10}{676}{s6}{s9}{0}
\Cl{s11}{664}{s4}{s10}{0}
\Cl{s12}{723}{B91}{B92}{0}
\Cl{s13}{713}{B90}{s12}{0}
\Cl{s14}{730}{B94}{B95}{0}
\Cl{s15}{716}{B93}{s14}{0}
\Cl{s16}{748}{B99}{B100}{0}
\Cl{s17}{739}{B98}{s16}{0}
\Cl{s18}{730}{B97}{s17}{0}
\Cl{s19}{717}{B96}{s18}{0}
\Cl{s20}{700}{s15}{s19}{0}
\Cl{s21}{683}{s13}{s20}{0}
\Cl{t1}{786}{B103}{B104}{0}
\Cl{t2}{776}{B102}{t1}{0}
\Cl{t3}{805}{B107}{B108}{0}
\Cl{t4}{833}{B112}{B113}{0}
\Cl{t5}{824}{B111}{t4}{0}
\Cl{t6}{814}{B110}{t5}{0}
\Cl{t7}{804}{B109}{t6}{0}
\Cl{t8}{795}{t3}{t7}{0}
\Cl{t9}{783}{B106}{t8}{0}
\Cl{t10}{771}{B105}{t9}{0}
\Cl{t11}{760}{t2}{t10}{0}
\Cl{t12}{749}{B101}{t11}{0}
\Cl{t13}{764}{B114}{B115}{0}
\Cl{t14}{772}{B116}{B117}{0}
\Cl{t15}{782}{B118}{B119}{0}
\Cl{t16}{810}{B122}{B123}{0}
\Cl{t17}{800}{B121}{t16}{0}
\Cl{t18}{791}{B120}{t17}{0}
\Cl{t19}{801}{B124}{B125}{0}
\Cl{t20}{810}{B127}{B128}{0}
\Cl{t21}{801}{B126}{t20}{0}
\Cl{t22}{791}{t19}{t21}{0}
\Cl{t23}{782}{t18}{t22}{0}
\Cl{t24}{772}{t15}{t23}{0}
\Cl{t25}{762}{t14}{t24}{0}
\Cl{t26}{750}{t13}{t25}{0}
\Cl{t27}{739}{t12}{t26}{0}
\Cl{u1}{802}{B132}{B133}{0}
\Cl{u2}{792}{B131}{u1}{0}
\Cl{u3}{782}{B130}{u2}{0}
\Cl{u4}{770}{B129}{u3}{0}
\Cl{v1}{818}{B134}{B135}{0}
\Cl{v2}{865}{B140}{B141}{0}
\Cl{v3}{856}{B139}{v2}{0}
\Cl{v4}{846}{B138}{v3}{0}
\Cl{v5}{865}{B144}{B145}{0}
\Cl{v6}{856}{B143}{v5}{0}
\Cl{v7}{846}{B142}{v6}{0}
\Cl{v8}{837}{v4}{v7}{0}
\Cl{v9}{827}{B137}{v8}{0}
\Cl{v10}{817}{B136}{v9}{0}
\Cl{v11}{803}{v1}{v10}{0}
\Cl{w1}{838}{B147}{B148}{0}
\Cl{w2}{856}{B150}{B151}{0}
\Cl{w3}{839}{B149}{w2}{0}
\Cl{w4}{828}{w1}{w3}{0}
\Cl{w5}{813}{B146}{w4}{0}
\Cl{x1}{866}{B153}{B154}{0}
\Cl{x2}{894}{B158}{B159}{0}
\Cl{x3}{885}{B157}{x2}{0}
\Cl{x4}{876}{B156}{x3}{0}
\Cl{x5}{866}{B155}{x4}{0}
\Cl{x6}{856}{x1}{x5}{0}
\Cl{x7}{842}{B152}{x6}{0}
\Cl{y1}{773}{w5}{x7}{0}
\Cl{y2}{757}{v11}{y1}{0}
\Cl{y3}{737}{u4}{y2}{0}
\Cl{y4}{688}{t27}{y3}{0}
\Cl{y5}{665}{s21}{y4}{0}
\Cl{y6}{650}{s11}{y5}{0}
\Cl{y7}{633}{r1}{y6}{0}
\Cl{Broot}{606}{B0}{y7}{0}
% ===== draw everything in layer order =====
\bglist
\underlist
\mainlist
\lablist
\toplist
% ===== panel letters and scale bars =====
\node[panellet] (letA) at (16,-2320) {A};
\coordinate (sa1) at (2,-2345);
\coordinate (sa2) at (64,-2345);
\draw[scalebar] (sa1) -- (sa2);
\draw[scalebar] ($(sa1)+(0,5)$) -- ($(sa1)+(0,-5)$);
\draw[scalebar] ($(sa2)+(0,5)$) -- ($(sa2)+(0,-5)$);
\node[scaletxt] (scA) at (1,-2355) {0.416667};
\node[panellet] (letB) at (621,-2320) {B};
\coordinate (sb1) at (602,-2345);
\coordinate (sb2) at (669,-2345);
\draw[scalebar] (sb1) -- (sb2);
\draw[scalebar] ($(sb1)+(0,5)$) -- ($(sb1)+(0,-5)$);
\draw[scalebar] ($(sb2)+(0,5)$) -- ($(sb2)+(0,-5)$);
\node[scaletxt] (scB) at (601,-2355) {0.416667};
\end{tikzpicture}
\end{document}
